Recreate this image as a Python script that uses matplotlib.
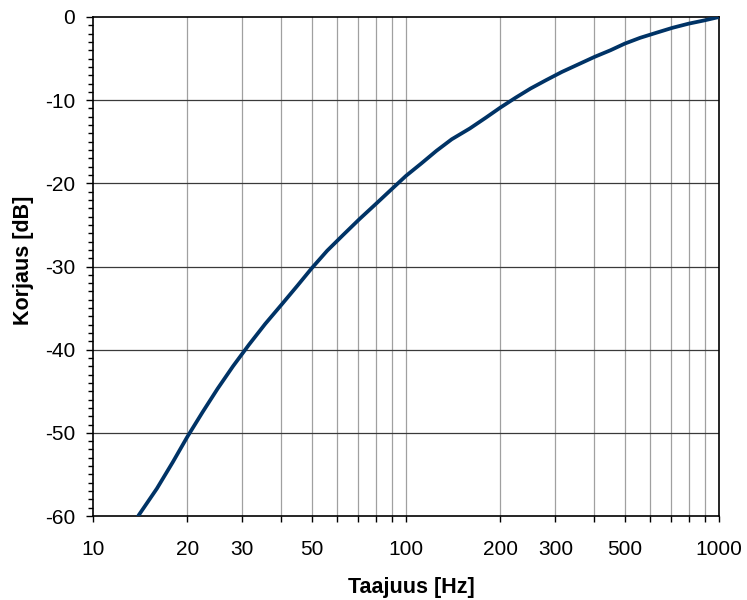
import matplotlib
matplotlib.use('Agg')
import matplotlib.pyplot as plt
from matplotlib.ticker import FixedLocator, MultipleLocator

plt.rcParams['font.family'] = ['Liberation Sans', 'DejaVu Sans']
plt.rcParams['axes.unicode_minus'] = False

# frequencies (Hz) and correction values (dB)
freq = [10, 11.2, 12.5, 14, 16, 18, 20, 22.4, 25, 28, 31.5, 35.5, 40, 45,
        50, 56, 63, 71, 80, 90, 100, 112, 125, 140, 160, 180, 200, 224,
        250, 280, 315, 355, 400, 450, 500, 560, 630, 710, 800, 900, 1000]
corr = [-70.4, -66.8, -63.4, -59.9, -56.7, -53.5, -50.5, -47.5, -44.7, -42.0,
        -39.4, -36.9, -34.6, -32.3, -30.2, -28.1, -26.2, -24.3, -22.5, -20.7,
        -19.1, -17.6, -16.1, -14.7, -13.4, -12.1, -10.9, -9.7, -8.6, -7.6,
        -6.6, -5.7, -4.8, -4.0, -3.2, -2.5, -1.9, -1.3, -0.8, -0.4, 0.0]

xtick_pos = [10, 20, 30, 40, 50, 60, 70, 80, 90, 100, 200, 300, 400, 500,
             600, 700, 800, 900, 1000]
xtick_lab = ['10', '20', '30', '', '50', '', '', '', '', '100', '200', '300',
             '', '500', '', '', '', '', '1000']
yticks = [0, -10, -20, -30, -40, -50, -60]

fig = plt.figure(figsize=(7.47, 6.0), dpi=100)
ax = fig.add_axes([93/747, 1-516/600, (719-93)/747, (516-17)/600])

ax.plot(freq, corr, color='#003366', lw=2.7, solid_joinstyle='round',
        solid_capstyle='round', zorder=3)

ax.set_xscale('log')
ax.set_xlim(10, 1000)
ax.set_ylim(-60, 0)

# grid
for f in xtick_pos[1:-1]:
    ax.axvline(f, color='#a0a0a0', lw=0.9, zorder=1)
for y in yticks[1:-1]:
    ax.axhline(y, color='#3a3a3a', lw=0.9, zorder=1)

ax.xaxis.set_major_locator(FixedLocator(xtick_pos))
ax.set_xticklabels(xtick_lab)
ax.xaxis.set_minor_locator(FixedLocator([]))
ax.set_yticks(yticks)
ax.set_yticklabels([str(v) for v in yticks])
ax.yaxis.set_minor_locator(MultipleLocator(1))

ax.tick_params(axis='x', which='major', direction='out', length=4.3, width=1,
               labelsize=15, pad=13)
ax.tick_params(axis='y', which='major', direction='out', length=5, width=1,
               labelsize=15, pad=8)
ax.tick_params(axis='y', which='minor', direction='out', length=3.6, width=1)

for s in ax.spines.values():
    s.set_linewidth(1.2)
    s.set_color('black')

ax.set_xlabel('Taajuus [Hz]', fontsize=15.5, fontweight='bold', va='center')
ax.set_ylabel('Korjaus [dB]', fontsize=15.5, fontweight='bold', va='center')
ax.xaxis.set_label_coords((411-93)/626, (516-588)/499)
ax.yaxis.set_label_coords((23-93)/626, (516-260)/499)

fig.savefig('out.png', dpi=100)
